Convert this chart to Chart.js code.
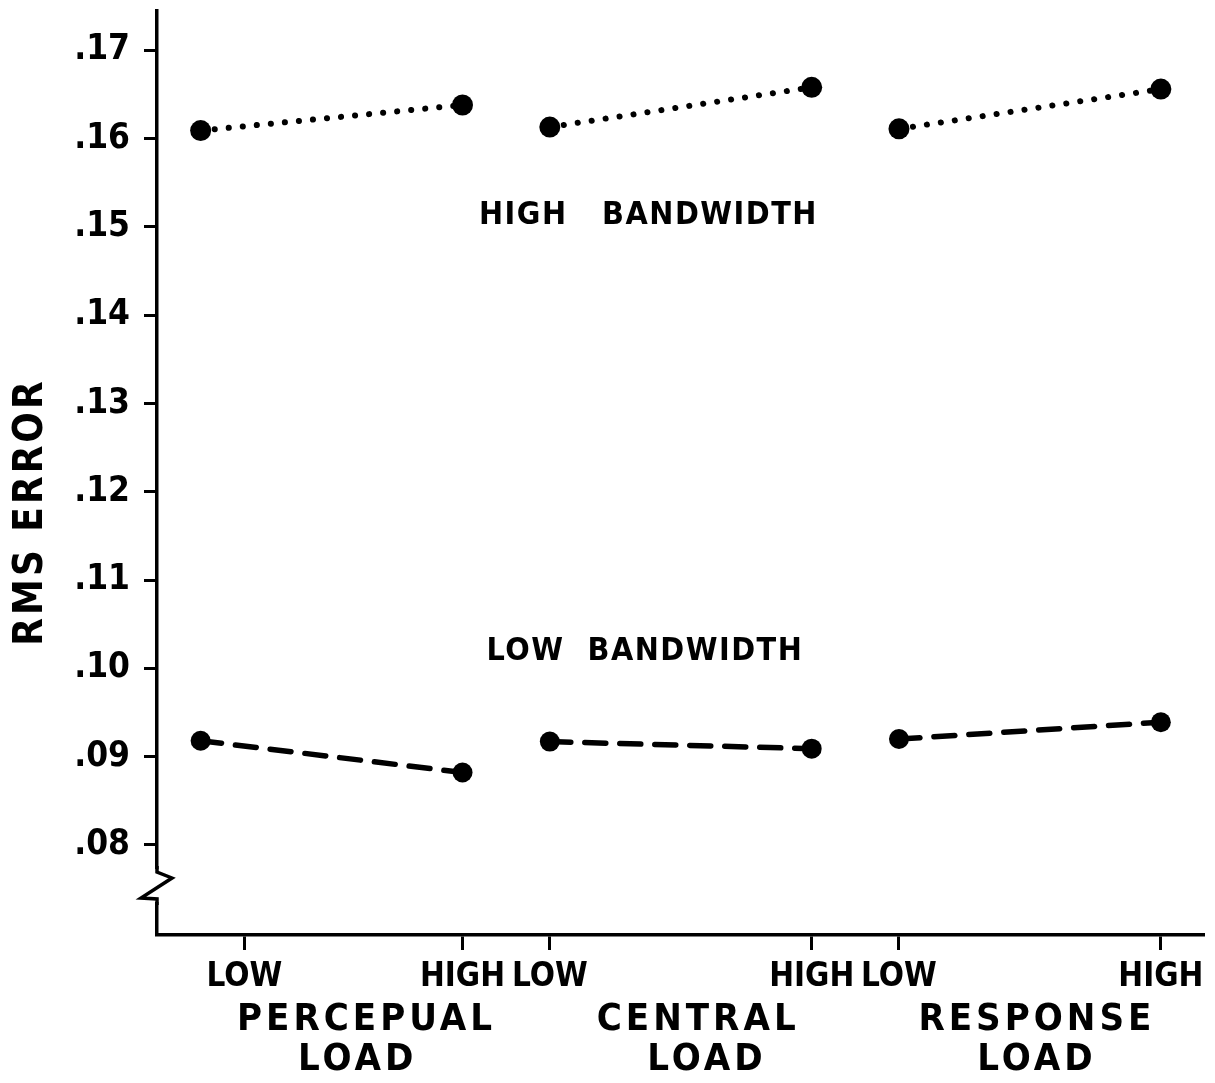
<!DOCTYPE html>
<html>
<head>
<meta charset="utf-8">
<script src="https://cdn.jsdelivr.net/npm/chart.js@4"></script>
<style>
  body { margin: 0; background: #fff; }
  #wrap { width: 1215px; height: 1083px; }
</style>
</head>
<body>
<div id="wrap"><canvas id="chartCanvas" width="1215" height="1083"></canvas></div>
<script>
// x positions of the measured points (low / high within each load type)
let pointX = [0.5, 3.5, 4.5, 7.5, 8.5, 11.5];
let groups = ['PERCEPUAL', 'CENTRAL', 'RESPONSE'];
let highBandwidth = [0.1609, 0.1638, 0.1613, 0.1658, 0.1611, 0.1656];
let lowBandwidth = [0.0918, 0.0882, 0.0917, 0.0909, 0.0920, 0.0939];

let xTickPos = [1, 3.5, 4.5, 7.5, 8.5, 11.5];
let xTickLabels = ['LOW', 'HIGH', 'LOW', 'HIGH', 'LOW', 'HIGH'];
let yTickValues = [0.08, 0.09, 0.10, 0.11, 0.12, 0.13, 0.14, 0.15, 0.16, 0.17];
let yTickLabels = ['.08', '.09', '.10', '.11', '.12', '.13', '.14', '.15', '.16', '.17'];

let font = "'DejaVu Sans Condensed', 'DejaVu Sans', sans-serif";

function seg(values, g) {
    return [
        { x: pointX[g * 2], y: values[g * 2] },
        { x: pointX[g * 2 + 1], y: values[g * 2 + 1] }
    ];
}

let datasets = [];
for (let g = 0; g < groups.length; g++) {
    datasets.push({
        label: 'High bandwidth ' + groups[g],
        data: seg(highBandwidth, g),
        borderColor: '#000',
        backgroundColor: '#000',
        borderWidth: 6,
        borderDash: [0.1, 14],
        borderCapStyle: 'round',
        pointRadius: 10.5,
        pointBorderWidth: 0,
        fill: false,
        tension: 0
    });
    datasets.push({
        label: 'Low bandwidth ' + groups[g],
        data: seg(lowBandwidth, g),
        borderColor: '#000',
        backgroundColor: '#000',
        borderWidth: 5.5,
        borderDash: [21, 14],
        borderCapStyle: 'round',
        pointRadius: 10,
        pointBorderWidth: 0,
        fill: false,
        tension: 0
    });
}

// extra lettering: axis title, bandwidth labels, load names, axis break
let textPlugin = {
    id: 'texts',
    afterDraw(chart) {
        let c = chart.ctx;
        let xs = chart.scales.x;
        let ys = chart.scales.y;
        c.save();
        c.textAlign = 'center';
        c.textBaseline = 'middle';

        // axis break on the y axis
        let ax = xs.left;
        c.fillStyle = '#fff';
        c.fillRect(ax - 4, 869, 8, 33);
        c.strokeStyle = '#000';
        c.lineWidth = 3.5;
        c.lineJoin = 'miter';
        c.beginPath();
        c.moveTo(ax, 866);
        c.lineTo(ax, 872);
        c.lineTo(ax + 15, 878);
        c.lineTo(ax - 16, 898);
        c.lineTo(ax, 899);
        c.lineTo(ax, 905);
        c.stroke();

        c.fillStyle = '#000';
        c.letterSpacing = '3px';
        c.font = 'bold 40px ' + font;
        c.translate(32, 512);
        c.rotate(-Math.PI / 2);
        c.fillText('RMS ERROR', 0, 0);
        c.setTransform(1, 0, 0, 1, 0, 0);

        c.letterSpacing = '1.5px';
        c.font = 'bold 32px ' + font;
        c.fillText('HIGH   BANDWIDTH', xs.getPixelForValue(5.63), ys.getPixelForValue(0.1513));
        c.fillText('LOW  BANDWIDTH', xs.getPixelForValue(5.59), ys.getPixelForValue(0.1019));

        c.letterSpacing = '4px';
        c.font = 'bold 38px ' + font;
        let gx = [2.4, 6.2, 10.08];
        let lx = [2.3, 6.3, 10.08];
        for (let g = 0; g < groups.length; g++) {
            c.fillText(groups[g], xs.getPixelForValue(gx[g]), 1020);
            c.fillText('LOAD', xs.getPixelForValue(lx[g]), 1060);
        }
        c.restore();
    }
};

let ctx = document.getElementById('chartCanvas').getContext('2d');
let chart = new Chart(ctx, {
    type: 'line',
    data: { datasets: datasets },
    options: {
        responsive: false,
        animation: false,
        layout: { padding: { top: 10, right: 2, left: 0, bottom: 0 } },
        plugins: {
            legend: { display: false },
            tooltip: { enabled: false }
        },
        scales: {
            x: {
                type: 'linear',
                min: 0,
                max: 12,
                afterBuildTicks: (scale) => {
                    scale.ticks = xTickPos.map(v => ({ value: v }));
                },
                afterFit: (scale) => {
                    scale.height = 148;
                    scale.paddingLeft = 0;
                    scale.paddingRight = 0;
                },
                ticks: {
                    autoSkip: false,
                    maxRotation: 0,
                    color: '#000',
                    padding: 8,
                    font: { family: font, size: 33, weight: 'bold' },
                    callback: (v, i) => xTickLabels[i]
                },
                grid: {
                    drawOnChartArea: false,
                    drawTicks: true,
                    tickLength: 15,
                    tickWidth: 3,
                    tickColor: '#000'
                },
                border: { color: '#000', width: 3.5 }
            },
            y: {
                min: 0.0698,
                max: 0.1745,
                afterBuildTicks: (scale) => {
                    scale.ticks = yTickValues.map(v => ({ value: v }));
                },
                afterFit: (scale) => {
                    scale.width = 157;
                    scale.paddingTop = 0;
                    scale.paddingBottom = 0;
                },
                ticks: {
                    color: '#000',
                    padding: 14,
                    font: { family: font, size: 35, weight: 'bold' },
                    callback: (v, i) => yTickLabels[i]
                },
                grid: {
                    drawOnChartArea: false,
                    drawTicks: true,
                    tickLength: 13,
                    tickWidth: 3,
                    tickColor: '#000'
                },
                border: { color: '#000', width: 3.5 }
            }
        }
    },
    plugins: [textPlugin]
});
</script>
</body>
</html>
